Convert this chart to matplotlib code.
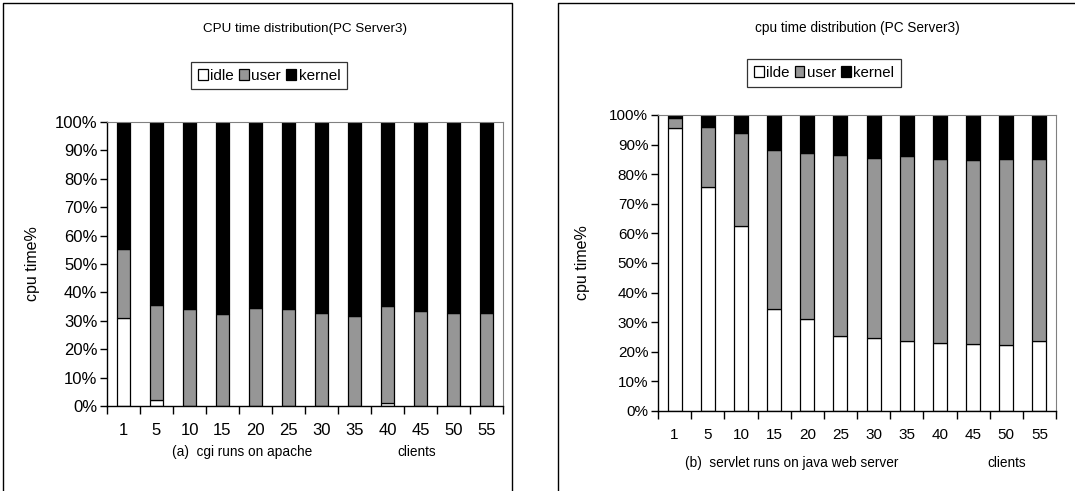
import numpy as np
import matplotlib.pyplot as plt
from matplotlib.lines import Line2D

plt.rcParams['font.family'] = ['Liberation Sans', 'DejaVu Sans']

clients = ['1', '5', '10', '15', '20', '25', '30', '35', '40', '45', '50', '55']

# cgi on apache: idle / user shares (%), kernel is the rest
cgi_idle = [31.0, 2.2, 0, 0, 0, 0, 0, 0, 1.2, 0, 0, 0]
cgi_user = [24.2, 33.4, 34.2, 32.5, 34.6, 34.3, 32.6, 31.8, 34.0, 33.4, 32.7, 32.8]

# servlet on java web server
svl_idle = [95.6, 75.8, 62.6, 34.3, 31.2, 25.2, 24.7, 23.8, 23.0, 22.6, 22.3, 23.8]
svl_user = [3.4, 20.3, 31.4, 54.0, 56.1, 61.4, 60.8, 62.4, 62.3, 62.1, 62.9, 61.4]

GRAY = '#969696'
W, H = 1075, 491

fig = plt.figure(figsize=(W / 100, H / 100), dpi=100)


def frame_line(xs, ys):
    fig.add_artist(Line2D([v / W for v in xs], [1 - v / H for v in ys],
                          transform=fig.transFigure, color='black', lw=1.0))


# panel frames (bottom/right edges run off the page)
frame_line([3, 3, 512, 512], [H, 3, 3, H])
frame_line([558, 558, W], [H, 3, 3])


def panel(box, idle, user, width, title, legend_labels, leg_box, fs, ylab_x,
          title_y, note, note_x, clients_x, note_y, title_fs, note_fs, leg_fs,
          ylab_fs):
    l, t, r, b = box
    ax = fig.add_axes([l / W, 1 - b / H, (r - l) / W, (b - t) / H])
    x = np.arange(len(clients))
    idle = np.array(idle)
    user = np.array(user)
    kernel = 100 - idle - user
    h1 = ax.bar(x, idle, width, color='white', edgecolor='black', lw=0.9)
    h2 = ax.bar(x, user, width, bottom=idle, color=GRAY, edgecolor='black', lw=0.9)
    h3 = ax.bar(x, kernel, width, bottom=idle + user, color='black',
                edgecolor='black', lw=0.9)
    ax.set_xlim(-0.5, len(clients) - 0.5)
    ax.set_ylim(0, 100)
    ax.set_yticks(np.arange(0, 101, 10))
    ax.set_yticklabels([f'{v}%' for v in range(0, 101, 10)], fontsize=fs)
    ax.set_xticks(np.arange(-0.5, len(clients), 1.0))
    ax.set_xticklabels([])
    ax.set_xticks(x, minor=True)
    ax.set_xticklabels(clients, minor=True, fontsize=fs)
    ax.tick_params(axis='x', which='major', length=6, width=1, direction='out')
    ax.tick_params(axis='x', which='minor', length=0, pad=12)
    ax.tick_params(axis='y', length=5, width=1, pad=2)
    for s in ['top', 'right']:
        ax.spines[s].set_color('#808080')
        ax.spines[s].set_linewidth(0.8)
    for s in ['left', 'bottom']:
        ax.spines[s].set_linewidth(1.0)
    fig.text(ylab_x / W, 1 - (t + b) / 2 / H, 'cpu time%', rotation=90,
             ha='center', va='center', fontsize=ylab_fs)

    fig.text((l + r) / 2 / W, 1 - title_y / H, title,
             ha='center', va='center', fontsize=title_fs)
    lx0, ly0, lx1, ly1 = leg_box
    leg = fig.legend([h1, h2, h3], legend_labels, loc='center',
                     bbox_to_anchor=((lx0 + lx1) / 2 / W, 1 - (ly0 + ly1) / 2 / H),
                     ncol=3, frameon=True, fancybox=False, fontsize=leg_fs,
                     handlelength=0.65, handleheight=0.75, handletextpad=0.15,
                     columnspacing=0.35, borderpad=0.45, borderaxespad=0)
    leg.get_frame().set_edgecolor('black')
    leg.get_frame().set_linewidth(0.9)
    fig.text(note_x / W, 1 - note_y / H, note, ha='center', va='center',
             fontsize=note_fs)
    fig.text(clients_x / W, 1 - note_y / H, 'clients', ha='center',
             va='center', fontsize=note_fs)
    return ax


panel((107, 122, 503, 406), cgi_idle, cgi_user, 0.4,
      'CPU time distribution(PC Server3)',
      ['idle', 'user', 'kernel'], (195, 62, 343, 89), 12, 33, 29,
      '(a)  cgi runs on apache', 242, 417, 452, 9.6, 9.8, 11, 11.5)

panel((658, 115, 1056, 411), svl_idle, svl_user, 0.42,
      'cpu time distribution (PC Server3)',
      ['ilde', 'user', 'kernel'], (750, 60, 898, 86), 11, 583, 28,
      '(b)  servlet runs on java web server', 792, 1007, 463, 9.8, 9.8, 10.8,
      11.5)

fig.savefig('out.png', dpi=100)
